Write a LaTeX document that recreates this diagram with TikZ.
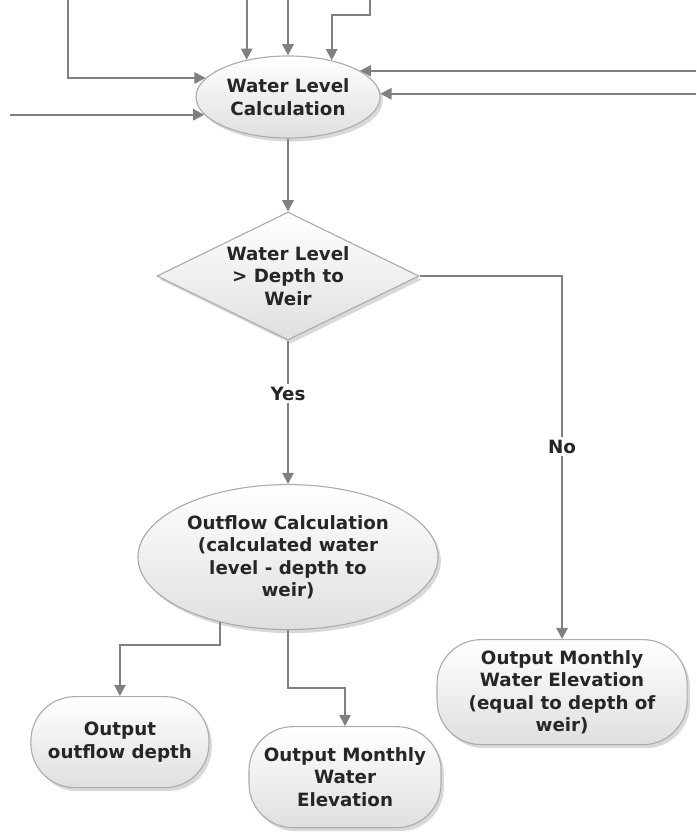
\documentclass[tikz,border=0pt]{standalone}
\usepackage{fontspec}
\setmainfont{DejaVu Sans}
\usetikzlibrary{positioning, shapes.geometric, shadows, arrows.meta}

\begin{document}
\begin{tikzpicture}[
    x=0.025cm, y=0.025cm,
    on grid,
    every node/.style={text=black!85, align=center, font=\bfseries\fontsize{13}{16}\selectfont},
    shapebase/.style={draw=gray!65, thick, top color=white, bottom color=gray!25, inner sep=0pt,
        drop shadow={opacity=0.3, shadow xshift=2pt, shadow yshift=-2.5pt}},
    calc/.style={shapebase, ellipse},
    decision/.style={shapebase, diamond, aspect=2},
    outbox/.style={shapebase, rectangle, rounded corners=1.1cm},
    flow/.style={draw=gray, line width=1.5pt, -{Triangle[length=8pt, width=8pt]}},
    lbl/.style={fill=white, inner sep=2pt}
]
   \useasboundingbox (0,0) rectangle (696,833);

   % Calculation steps
   \node[calc, minimum width=4.6cm, minimum height=2.05cm] (wlc) at (288,736) {Water Level\\Calculation};
   \node[decision, minimum width=6.55cm, minimum height=3.2cm] (dec) [below=4.475cm of wlc] {Water Level\\> Depth to\\Weir};
   \node[calc, minimum width=7.5cm, minimum height=3.625cm] (outcalc) [below=7.025cm of dec] {Outflow Calculation\\(calculated water\\level - depth to\\weir)};

   % Outputs
   \node[outbox, minimum width=4.45cm, minimum height=2.275cm] (outdepth) [below left=4.625cm and 4.2cm of outcalc] {Output\\outflow depth};
   \node[outbox, minimum width=4.8cm, minimum height=2.525cm] (outelev) [below right=5.5cm and 1.425cm of outcalc] {Output Monthly\\Water\\Elevation};
   \node[outbox, minimum width=6.25cm, minimum height=2.625cm] (outweir) [below right=3.375cm and 6.85cm of outcalc] {Output Monthly\\Water Elevation\\(equal to depth of\\weir)};

   % Inputs coming from outside the figure
   \coordinate (top) at (0,833);
   \coordinate (inleft) at (10,0);
   \coordinate (inright) at (696,0);
   \coordinate (ina) at (68,833);
   \coordinate (inb) at (370,833);

   % Connectors
   \draw[flow] (wlc.138 |- top) -- (wlc.138);
   \draw[flow] (wlc.north |- top) -- (wlc.north);
   \draw[flow] (inb) -- ++(0,-15) -| (wlc.40);
   \draw[flow] (ina) |- (wlc.167);
   \draw[flow] (wlc.192 -| inleft) -- (wlc.192);
   \draw[flow] (wlc.20 -| inright) -- (wlc.20);
   \draw[flow] (wlc.2 -| inright) -- (wlc.2);
   \draw[flow] (wlc) -- (dec);
   \draw[flow] (dec) -- node[lbl, pos=0.37] {Yes} (outcalc);
   \draw[flow] (dec.east) -| node[lbl, pos=0.735] {No} (outweir);
   \draw[flow] (outcalc.224) -- ++(0,-23) -| (outdepth);
   \draw[flow] (outcalc.south) -- ++(0,-58) -| (outelev);
\end{tikzpicture}
\end{document}
